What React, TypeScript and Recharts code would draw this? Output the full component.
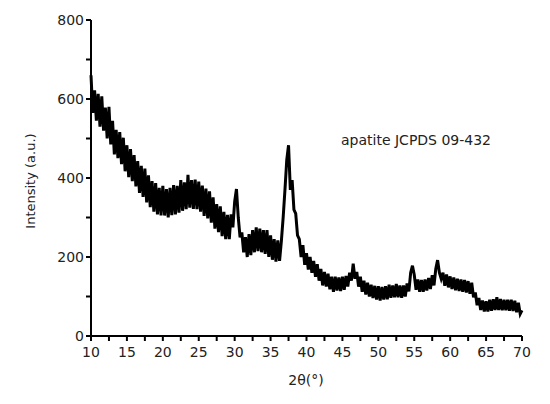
import React from 'react';
import { LineChart, Line, XAxis, YAxis } from 'recharts';

// 2θ sampling: start and step of the recorded scan
const START = 10;
const STEP = 0.25;

// intensity, one value per step from 10 to 70
const intensity = [
  660, 565, 622, 545, 613, 530, 607, 520, 578, 500, 580, 485,
  545, 460, 522, 450, 516, 435, 502, 417, 483, 402, 473, 392,
  458, 379, 443, 362, 431, 352, 424, 338, 407, 326, 392, 315,
  387, 308, 375, 305, 380, 305, 372, 300, 375, 306, 382, 308,
  380, 312, 395, 317, 389, 321, 408, 325, 395, 322, 396, 321,
  391, 315, 381, 304, 373, 298, 366, 287, 351, 272, 334, 263,
  328, 253, 314, 245, 307, 245, 308, 275, 340, 372, 300, 250,
  262, 212, 250, 200, 258, 205, 268, 212, 275, 215, 272, 212,
  268, 208, 268, 200, 255, 193, 245, 188, 242, 190, 240, 300,
  370, 445, 483, 370, 395, 320, 310, 255, 245, 200, 230, 180,
  210, 168, 200, 160, 190, 150, 182, 140, 170, 128, 162, 125,
  158, 118, 150, 112, 150, 115, 148, 114, 150, 117, 152, 125,
  160, 140, 183, 145, 162, 125, 150, 112, 140, 105, 135, 100,
  130, 96, 127, 92, 126, 90, 124, 92, 126, 93, 130, 97,
  128, 98, 132, 98, 128, 97, 128, 100, 133, 113, 160, 178,
  155, 117, 143, 112, 142, 112, 143, 115, 147, 119, 154, 128,
  170, 192, 160, 145, 160, 127, 156, 123, 151, 119, 148, 116,
  145, 114, 143, 112, 142, 110, 139, 107, 135, 98, 110, 78,
  96, 66, 90, 62, 88, 62, 92, 64, 93, 66, 98, 66,
  94, 65, 92, 65, 92, 64, 92, 63, 89, 60, 84, 56,
  65,
];

const xTicks = [10, 12.5, 15, 17.5, 20, 22.5, 25, 27.5, 30, 32.5, 35, 37.5, 40, 42.5, 45, 47.5, 50, 52.5, 55, 57.5, 60, 62.5, 65, 67.5, 70];
const yTicks = [0, 100, 200, 300, 400, 500, 600, 700, 800];

const data = intensity.map((v, i) => ({ x: START + i * STEP, y: v }));

const font = '"DejaVu Sans", Verdana, sans-serif';

const XTick = (props: any) => {
  const { x, y, payload } = props;
  if (payload.value % 5 !== 0) return null;
  return (
    <text x={x} y={y} dy={14} textAnchor="middle" fontFamily={font} fontSize={14} fill="#222">
      {payload.value}
    </text>
  );
};

const YTick = (props: any) => {
  const { x, y, payload } = props;
  if (payload.value % 200 !== 0) return null;
  return (
    <text x={x} y={y} dy={5} textAnchor="end" fontFamily={font} fontSize={14} fill="#222">
      {payload.value}
    </text>
  );
};

export default function App() {
  return (
    <div style={{ position: 'absolute', left: 0, top: 0, width: 550, height: 404, background: '#fff' }}>
      <LineChart width={550} height={404} data={data} margin={{ top: 20, right: 28, bottom: 0, left: 0 }}>
        <XAxis
          dataKey="x"
          type="number"
          domain={[10, 70]}
          ticks={xTicks}
          interval={0}
          tick={<XTick />}
          tickSize={5}
          height={68}
          axisLine={{ stroke: '#000', strokeWidth: 2 }}
          tickLine={{ stroke: '#000', strokeWidth: 2 }}
        />
        <YAxis
          type="number"
          domain={[0, 800]}
          ticks={yTicks}
          interval={0}
          tick={<YTick />}
          tickSize={5}
          width={91}
          axisLine={{ stroke: '#000', strokeWidth: 2 }}
          tickLine={{ stroke: '#000', strokeWidth: 2 }}
        />
        <Line
          dataKey="y"
          type="linear"
          stroke="#000"
          strokeWidth={3}
          dot={false}
          isAnimationActive={false}
        />
      </LineChart>
      <div
        style={{
          position: 'absolute', left: 30, top: 181, transform: 'translate(-50%, -50%) rotate(-90deg)',
          fontFamily: font, fontSize: 13, color: '#222', whiteSpace: 'nowrap',
        }}
      >
        Intensity (a.u.)
      </div>
      <div
        style={{
          position: 'absolute', left: 306, top: 380, transform: 'translate(-50%, -50%)',
          fontFamily: font, fontSize: 14, color: '#222', whiteSpace: 'nowrap',
        }}
      >
        2θ(°)
      </div>
      <div
        style={{
          position: 'absolute', left: 341, top: 132,
          fontFamily: font, fontSize: 14, color: '#222', whiteSpace: 'nowrap',
        }}
      >
        apatite JCPDS 09-432
      </div>
    </div>
  );
}
